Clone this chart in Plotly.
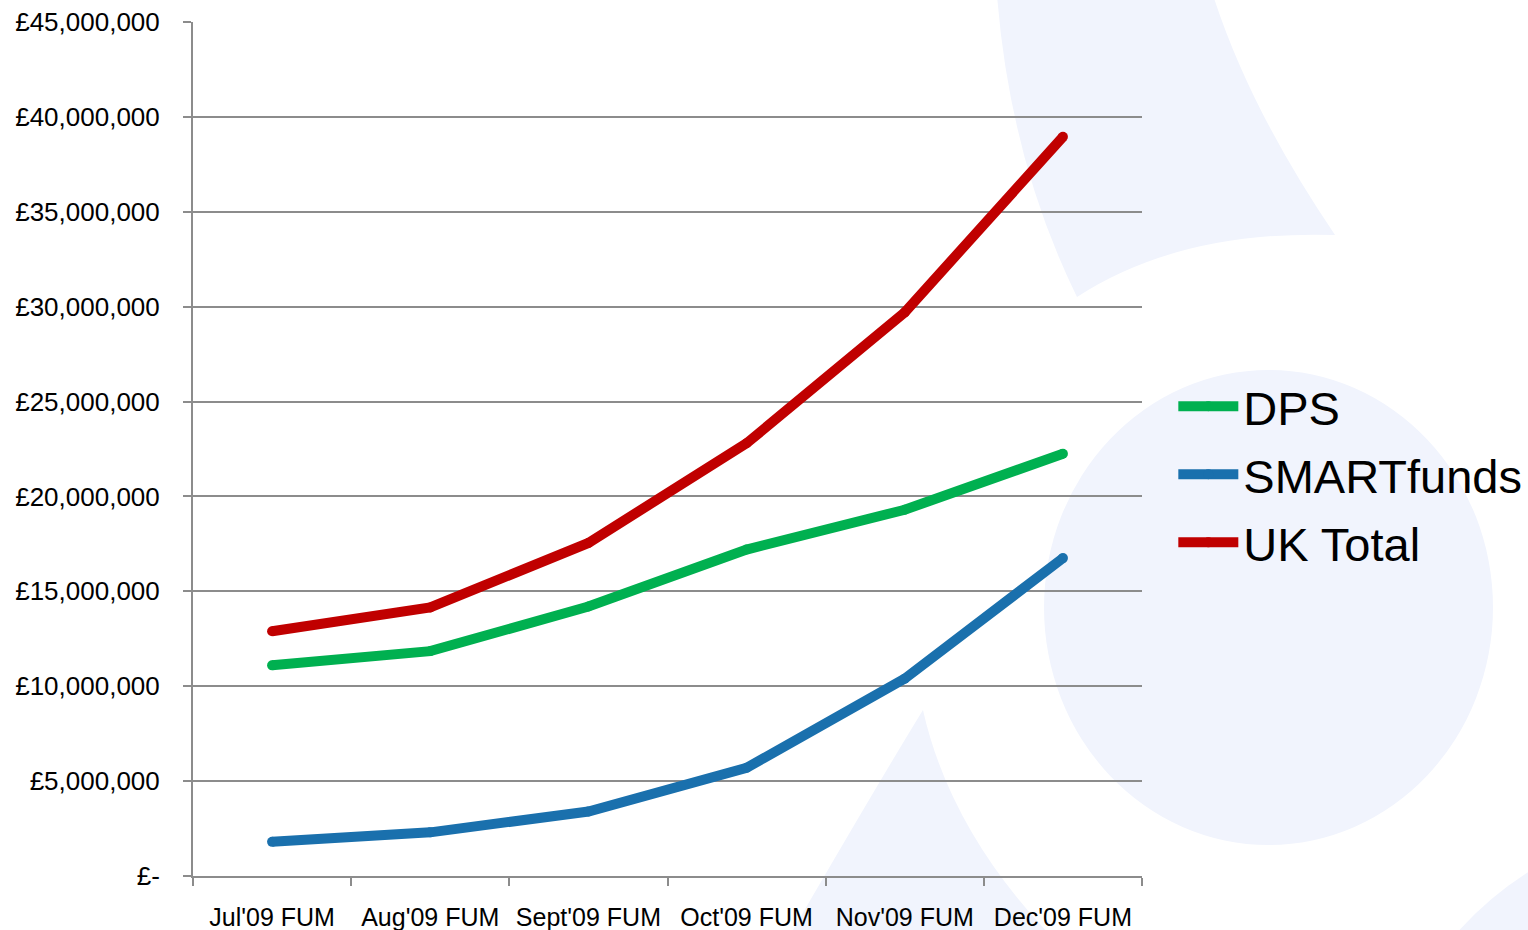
import plotly.graph_objects as go

categories = ["Jul'09 FUM", "Aug'09 FUM", "Sept'09 FUM", "Oct'09 FUM", "Nov'09 FUM", "Dec'09 FUM"]
dps = [11100000, 11850000, 14200000, 17200000, 19300000, 22250000]
smartfunds = [1800000, 2300000, 3400000, 5700000, 10400000, 16750000]
uk_total = [12900000, 14150000, 17550000, 22800000, 29700000, 38950000]
y_tick_values = [0, 5e6, 10e6, 15e6, 20e6, 25e6, 30e6, 35e6, 40e6, 45e6]
y_tick_labels = ["£-", "£5,000,000", "£10,000,000", "£15,000,000", "£20,000,000",
                 "£25,000,000", "£30,000,000", "£35,000,000", "£40,000,000", "£45,000,000"]

W, H = 1528, 930
L, R, T, B = 193, 1142, 22, 876


def px(x):
    return (x - L) / (R - L)


def py(y):
    return (B - y) / (B - T)


def pt(x, y):
    return f"{px(x):.4f},{py(y):.4f}"


WM = "#f1f4fd"

shapes = [
    dict(type="circle", xref="paper", yref="paper",
         x0=px(1044), x1=px(1493), y0=py(845), y1=py(370),
         fillcolor=WM, line=dict(width=0), layer="below"),
    dict(type="path", xref="paper", yref="paper",
         path=(f"M {pt(997, -5)} Q {pt(1010, 160)} {pt(1077, 297)} "
               f"Q {pt(1180, 230)} {pt(1335, 235)} "
               f"Q {pt(1250, 110)} {pt(1213, -5)} Z"),
         fillcolor=WM, line=dict(width=0), layer="below"),
    dict(type="path", xref="paper", yref="paper",
         path=(f"M {pt(790, 935)} Q {pt(880, 780)} {pt(923, 710)} "
               f"Q {pt(950, 830)} {pt(1050, 935)} Z"),
         fillcolor=WM, line=dict(width=0), layer="below"),
    dict(type="path", xref="paper", yref="paper",
         path=f"M {pt(1455, 935)} Q {pt(1490, 895)} {pt(1535, 868)} L {pt(1535, 935)} Z",
         fillcolor=WM, line=dict(width=0), layer="below"),
]

series = [("DPS", dps, "#00b050"), ("SMARTfunds", smartfunds, "#1a70ad"), ("UK Total", uk_total, "#c00000")]

fig = go.Figure()
for name, vals, col in series:
    fig.add_trace(go.Scatter(
        x=categories, y=vals, name=name, mode="lines+markers", legendgroup=name,
        line=dict(color=col, width=10),
        marker=dict(color=col, size=10, line=dict(width=0)),
    ))

grid = "#8c8c8c"
fig.update_layout(
    width=W, height=H,
    margin=dict(l=L, r=W - R, t=T, b=H - B, autoexpand=False),
    paper_bgcolor="white", plot_bgcolor="rgba(0,0,0,0)",
    font=dict(family="Liberation Sans, Arial, sans-serif", color="black", size=26),
    shapes=shapes,
    showlegend=True,
    legend=dict(x=1.033, xanchor="left", y=0.47, yanchor="middle",
                font=dict(size=47), bgcolor="rgba(0,0,0,0)",
                itemwidth=60, traceorder="grouped", tracegroupgap=4),
    xaxis=dict(type="category", range=[-0.5, 5.5], showgrid=False, automargin=False,
               showline=True, linecolor=grid, linewidth=2, tickangle=0,
               ticks="outside", tickson="boundaries", ticklen=8, tickcolor=grid, tickwidth=2,
               tickfont=dict(size=25), ticklabelstandoff=18),
    yaxis=dict(range=[0, 45e6], tickvals=y_tick_values, ticktext=y_tick_labels, automargin=False,
               showgrid=True, gridcolor=grid, gridwidth=2, zeroline=False,
               showline=True, linecolor=grid, linewidth=2,
               ticks="outside", ticklen=8, tickcolor=grid, tickwidth=2,
               tickfont=dict(size=26), ticklabelstandoff=18),
)

fig.write_html("out.html")
